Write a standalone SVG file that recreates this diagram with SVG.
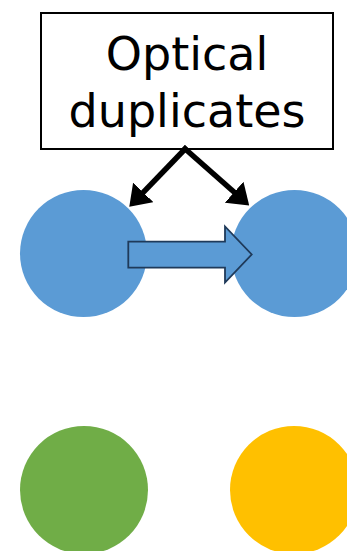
<svg xmlns="http://www.w3.org/2000/svg" width="347" height="551" viewBox="0 0 347 551">
  <style>
    .label { font-family: "DejaVu Sans", Verdana, sans-serif; font-size: 46px; fill: #000; text-anchor: middle; }
    .box { fill: #fff; stroke: #000; stroke-width: 2; }
    .blue { fill: #5B9BD5; }
    .conn { stroke: #000; stroke-width: 5.5; fill: none; }
  </style>
  <defs>
    <marker id="ah" viewBox="0 0 20 28" refX="2" refY="14" markerWidth="3.636" markerHeight="5.091" orient="auto" markerUnits="strokeWidth">
      <path d="M0,0 L20,14 L0,28 z" fill="#000"/>
    </marker>
  </defs>
  <rect width="347" height="551" fill="#fff"/>
  <g id="node-left-blue"><circle class="blue" cx="83.5" cy="253.5" r="63.5"/></g>
  <g id="node-right-blue"><circle class="blue" cx="294.5" cy="253.5" r="63.5"/></g>
  <g id="node-green"><circle cx="84" cy="490" r="64" fill="#70AD47"/></g>
  <g id="node-yellow"><circle cx="294" cy="490" r="64" fill="#FFC000"/></g>
  <g id="node-label">
    <rect class="box" x="41" y="13" width="292" height="136"/>
    <text class="label" x="187" y="70">Optical</text>
    <text class="label" x="187" y="127">duplicates</text>
  </g>
  <g id="connectors">
    <line class="conn" x1="187" y1="147" x2="141.8" y2="193.8" marker-end="url(#ah)"/>
    <line class="conn" x1="183" y1="147" x2="235.7" y2="193.5" marker-end="url(#ah)"/>
    <path d="M128.3,241.7 L225,241.7 L225,226.5 L251.7,254.5 L225,282.5 L225,267.7 L128.3,267.7 Z" fill="#5B9BD5" stroke="#1F3A5A" stroke-width="1.8" stroke-linejoin="miter"/>
  </g>
</svg>
